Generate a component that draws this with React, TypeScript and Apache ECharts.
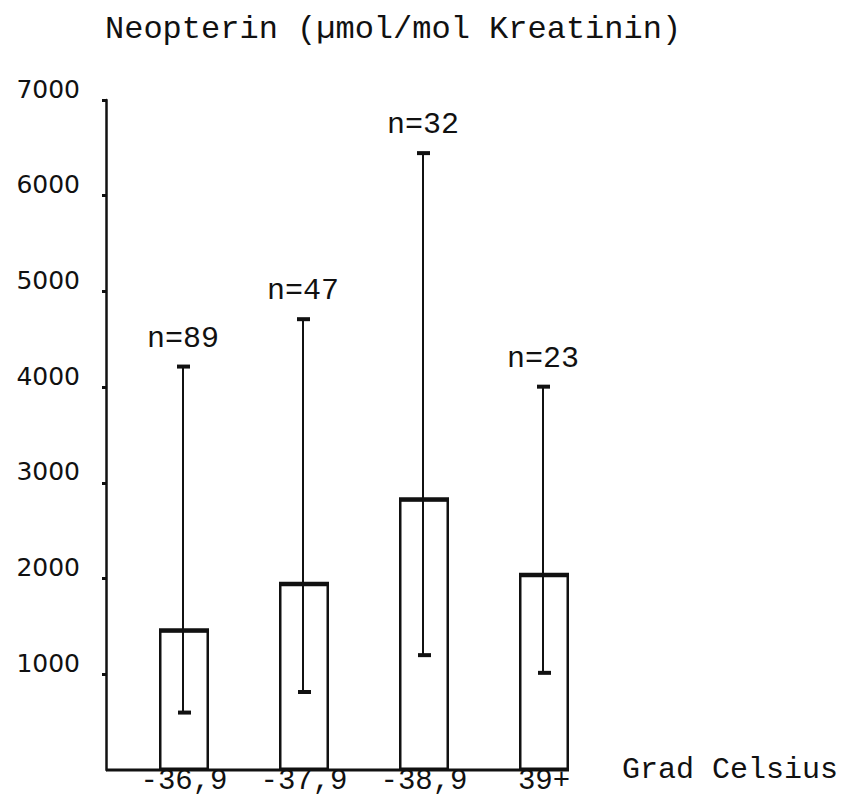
import React, { useEffect, useRef } from "react";
import * as echarts from "echarts";

const categories = ["-36,9", "-37,9", "-38,9", "39+"];
const meanValues = [1460, 1945, 2830, 2040];
const lowValues = [600, 815, 1200, 1015];
const highValues = [4215, 4710, 6445, 4005];
const nLabels = ["n=89", "n=47", "n=32", "n=23"];
const yMin = 0;
const yMax = 7000;
const yInterval = 1000;

const MONO = "'Liberation Mono', 'DejaVu Sans Mono', monospace";
const SANS = "'DejaVu Sans', 'Liberation Sans', sans-serif";
const INK = "#111";
const BAR_WIDTH = 50;
const Y_OFFSET = 18;

export default function App() {
  const ref = useRef<HTMLDivElement>(null);

  useEffect(() => {
    if (!ref.current) return;
    const chart = echarts.init(ref.current, undefined, { renderer: "svg" });

    const errorData = categories.map((_, i) => [i, lowValues[i], highValues[i], meanValues[i]]);

    const option: any = {
      animation: false,
      backgroundColor: "#fff",
      title: {
        text: "Neopterin (µmol/mol Kreatinin)",
        left: 100,
        top: 8,
        textStyle: { fontFamily: MONO, fontSize: 32, fontWeight: "normal", color: INK },
      },
      grid: { left: 124, right: 250, top: 100, bottom: 28, containLabel: false },
      xAxis: {
        type: "category",
        data: categories,
        boundaryGap: true,
        axisLine: { show: false },
        axisTick: { show: false },
        axisLabel: { fontFamily: MONO, fontSize: 29, lineHeight: 26, color: INK, margin: -2, interval: 0 },
        name: "Grad Celsius",
        nameLocation: "end",
        nameGap: 18,
        nameTextStyle: { fontFamily: MONO, fontSize: 30, color: INK, verticalAlign: "middle", padding: [4, 0, 0, 0] },
      },
      yAxis: {
        type: "value",
        min: yMin,
        max: yMax,
        interval: yInterval,
        offset: Y_OFFSET,
        splitLine: { show: false },
        axisLine: { show: true, lineStyle: { color: INK, width: 2.5 } },
        axisTick: { show: true, length: 4, lineStyle: { color: INK, width: 3 } },
        axisLabel: {
          fontFamily: SANS,
          fontSize: 25,
          lineHeight: 22,
          color: INK,
          margin: 26,
          verticalAlign: "bottom",
          showMinLabel: false,
          formatter: (v: number) => String(v),
        },
      },
      series: [
        {
          type: "bar",
          data: meanValues,
          barWidth: BAR_WIDTH,
          itemStyle: { color: "#fff", borderColor: INK, borderWidth: 2.5 },
          z: 2,
        },
        {
          type: "custom",
          data: errorData,
          clip: false,
          z: 3,
          renderItem: (params: any, api: any) => {
            const idx = api.value(0);
            const low = api.coord([idx, api.value(1)]);
            const high = api.coord([idx, api.value(2)]);
            const mean = api.coord([idx, api.value(3)]);
            const base = api.coord([idx, 0]);
            const band = api.size([1, 0])[0];
            const half = BAR_WIDTH / 2;
            const x = high[0] - 1;
            const cs = params.coordSys;
            const startX = params.dataIndex === 0 ? cs.x - Y_OFFSET : x + 1 - band + half;
            const stroke = { stroke: INK, lineCap: "butt" };
            return {
              type: "group",
              children: [
                { type: "line", shape: { x1: x, y1: high[1], x2: x, y2: low[1] }, style: { ...stroke, lineWidth: 2 } },
                { type: "line", shape: { x1: x - 6, y1: high[1], x2: x + 7, y2: high[1] }, style: { ...stroke, lineWidth: 4 } },
                { type: "line", shape: { x1: x - 5, y1: low[1], x2: x + 8, y2: low[1] }, style: { ...stroke, lineWidth: 4 } },
                { type: "line", shape: { x1: x + 1 - half, y1: mean[1], x2: x + 1 + half, y2: mean[1] }, style: { ...stroke, lineWidth: 4 } },
                { type: "line", shape: { x1: startX, y1: base[1], x2: x + 1 + half, y2: base[1] }, style: { ...stroke, lineWidth: 3 } },
                {
                  type: "text",
                  x: x,
                  y: high[1] - 28,
                  style: {
                    text: nLabels[idx],
                    fontFamily: MONO,
                    fontSize: 30,
                    fill: INK,
                    align: "center",
                    verticalAlign: "middle",
                  },
                },
              ],
            };
          },
        },
      ],
    };

    chart.setOption(option);
    return () => chart.dispose();
  }, []);

  return (
    <div
      ref={ref}
      style={{ position: "fixed", left: 0, top: 0, width: 854, height: 798, background: "#fff" }}
    />
  );
}
